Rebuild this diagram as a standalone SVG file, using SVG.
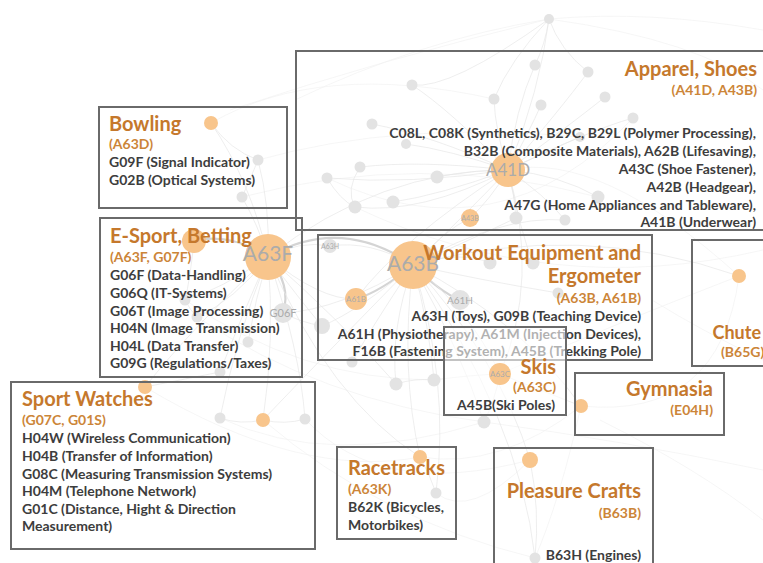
<svg xmlns="http://www.w3.org/2000/svg" width="763" height="563" viewBox="0 0 763 563">
<style>
.bg{fill:#ffffff}
.box{fill:none;stroke:#6a6a6a;stroke-width:2}
.t{font-family:Lato,"Open Sans","Liberation Sans",sans-serif;font-weight:bold;font-size:14px;fill:#3d3d3d}
.h{font-family:Lato,"Open Sans","Liberation Sans",sans-serif;font-weight:bold;font-size:20px;fill:#c5782c}
.s{font-family:Lato,"Open Sans","Liberation Sans",sans-serif;font-weight:bold;font-size:14px;fill:#cc8538}
.r{text-anchor:end}
.e{fill:none;stroke:#e6e6e6;stroke-width:0.7}
.ef{fill:none;stroke:#f0f0f0;stroke-width:0.6}
.ek{fill:none;stroke:#d4d4d4;stroke-width:2.2}
.no{fill:#f8c58c}
.ng{fill:#e3e3e3}
.nl{font-family:Lato,"Liberation Sans",sans-serif;fill:#ababab;text-anchor:middle}
</style>
<rect class="bg" x="0" y="0" width="763" height="563"/>
<g id="connectors">
<path class="ef" d="M549 19 Q420 40 295 100"/>
<path class="ef" d="M549 19 Q380 60 230 110"/>
<path class="ef" d="M549 19 Q700 40 763 90"/>
<path class="ef" d="M549 19 Q650 10 763 30"/>
<path class="ef" d="M739 276 Q600 150 508 170"/>
<path class="ef" d="M739 276 Q600 330 500 374"/>
<path class="ef" d="M739 276 Q720 420 581 406"/>
<path class="ef" d="M581 406 Q500 470 420 457"/>
<path class="ef" d="M581 406 Q560 500 535 558"/>
<path class="ef" d="M530 460 Q470 520 436 493"/>
<path class="ef" d="M305 419 Q380 500 530 460"/>
<path class="ef" d="M145 387 Q300 480 420 457"/>
<path class="ef" d="M263 420 Q380 520 535 558"/>
<path class="ef" d="M220 418 Q330 470 484 422"/>
<path class="ef" d="M185 300 Q300 380 434 380"/>
<path class="ef" d="M197 317 Q320 400 484 422"/>
<path class="ef" d="M211 123 Q320 60 494 99"/>
<path class="ef" d="M258 160 Q400 120 580 137"/>
<path class="ef" d="M242 197 Q420 150 598 197"/>
<path class="ef" d="M327 178 Q500 260 633 118"/>
<path class="ef" d="M355 207 Q550 300 763 250"/>
<path class="ef" d="M600 420 Q700 470 763 520"/>
<path class="ef" d="M484 422 Q620 440 763 470"/>
<path class="ef" d="M652 300 Q700 330 763 360"/>
<path class="ek" d="M413 265 Q340 215 268 257"/>
<path class="ek" d="M413 265 Q380 292 356 299"/>
<path class="ek" d="M413 265 Q440 292 460 300"/>
<path class="e" d="M413 265 Q470 310 500 374"/>
<path class="e" d="M413 265 Q470 210 508 170"/>
<path class="e" d="M413 265 Q340 310 283 313"/>
<path class="e" d="M413 265 Q360 310 322 326"/>
<path class="e" d="M413 265 Q370 240 330 246"/>
<path class="e" d="M413 265 Q390 330 396 384"/>
<path class="e" d="M413 265 Q430 330 434 380"/>
<path class="e" d="M413 265 Q460 350 484 422"/>
<path class="e" d="M413 265 Q400 370 420 457"/>
<path class="e" d="M413 265 Q500 360 530 460"/>
<path class="e" d="M413 265 Q520 320 581 406"/>
<path class="e" d="M413 265 Q580 220 739 276"/>
<path class="e" d="M413 265 Q320 360 263 420"/>
<path class="e" d="M413 265 Q450 380 436 493"/>
<path class="e" d="M413 265 Q445 230 470 218"/>
<path class="e" d="M413 265 Q470 240 516 218"/>
<path class="e" d="M413 265 Q500 215 565 220"/>
<path class="e" d="M413 265 Q520 420 535 558"/>
<path class="e" d="M413 265 Q460 250 490 263"/>
<path class="e" d="M413 265 Q480 280 558 293"/>
<path class="e" d="M413 265 Q370 330 352 362"/>
<path class="ek" d="M268 257 Q230 232 194 241"/>
<path class="ek" d="M268 257 Q292 285 283 313"/>
<path class="e" d="M268 257 Q250 180 211 123"/>
<path class="e" d="M268 257 Q270 205 258 160"/>
<path class="e" d="M268 257 Q258 225 242 197"/>
<path class="e" d="M268 257 Q220 290 185 300"/>
<path class="e" d="M268 257 Q235 300 197 317"/>
<path class="e" d="M268 257 Q255 300 248 342"/>
<path class="e" d="M268 257 Q240 320 220 372"/>
<path class="e" d="M268 257 Q275 340 263 420"/>
<path class="e" d="M268 257 Q190 330 145 387"/>
<path class="e" d="M268 257 Q235 340 220 418"/>
<path class="e" d="M268 257 Q380 170 508 170"/>
<path class="e" d="M268 257 Q300 300 322 326"/>
<path class="e" d="M268 257 Q320 300 356 299"/>
<path class="e" d="M268 257 Q330 400 420 457"/>
<path class="e" d="M268 257 Q300 350 305 419"/>
<path class="e" d="M268 257 Q300 240 330 246"/>
<path class="e" d="M268 257 Q340 320 396 384"/>
<path class="e" d="M508 170 Q540 90 549 19"/>
<path class="e" d="M508 170 Q515 110 535 65"/>
<path class="e" d="M508 170 Q450 110 412 85"/>
<path class="e" d="M508 170 Q495 130 494 99"/>
<path class="e" d="M508 170 Q530 130 541 105"/>
<path class="e" d="M508 170 Q560 110 588 72"/>
<path class="e" d="M508 170 Q570 125 605 97"/>
<path class="e" d="M508 170 Q590 130 633 118"/>
<path class="e" d="M508 170 Q550 150 580 137"/>
<path class="e" d="M508 170 Q430 135 372 124"/>
<path class="e" d="M508 170 Q450 150 406 144"/>
<path class="e" d="M508 170 Q420 160 360 167"/>
<path class="e" d="M508 170 Q410 185 327 178"/>
<path class="e" d="M508 170 Q470 170 437 177"/>
<path class="e" d="M508 170 Q440 195 393 202"/>
<path class="e" d="M508 170 Q420 215 355 207"/>
<path class="e" d="M508 170 Q490 200 470 218"/>
<path class="e" d="M508 170 Q515 195 516 218"/>
<path class="e" d="M508 170 Q545 195 565 220"/>
<path class="e" d="M508 170 Q560 175 598 197"/>
<path class="e" d="M508 170 Q400 240 356 299"/>
<path class="e" d="M508 170 Q540 280 500 374"/>
<path class="e" d="M508 170 Q520 230 533 263"/>
<path class="e" d="M549 19 Q545 45 535 65"/>
<path class="e" d="M549 19 Q560 50 588 72"/>
<path class="e" d="M549 19 Q510 60 494 99"/>
<path class="e" d="M549 19 Q450 90 412 85"/>
<path class="e" d="M327 178 Q340 200 355 207"/>
<path class="e" d="M360 167 Q345 190 355 207"/>
<path class="e" d="M211 123 Q230 150 258 160"/>
<path class="e" d="M258 160 Q250 180 242 197"/>
<path class="e" d="M194 241 Q190 280 185 300"/>
<path class="e" d="M185 300 Q190 310 197 317"/>
<path class="e" d="M145 387 Q180 380 220 372"/>
<path class="e" d="M220 418 Q240 425 263 420"/>
<path class="e" d="M263 420 Q285 425 305 419"/>
<path class="e" d="M283 313 Q300 322 322 326"/>
<path class="e" d="M396 384 Q415 378 434 380"/>
<path class="e" d="M434 380 Q470 375 500 374"/>
<path class="e" d="M500 374 Q495 400 484 422"/>
<path class="e" d="M500 374 Q540 390 581 406"/>
<path class="e" d="M420 457 Q430 475 436 493"/>
<path class="e" d="M530 460 Q540 510 535 558"/>
</g>
<g id="network-nodes">
<circle class="ng" cx="549" cy="19" r="5"/>
<circle class="ng" cx="535" cy="65" r="5.5"/>
<circle class="ng" cx="412" cy="85" r="5.5"/>
<circle class="ng" cx="494" cy="99" r="5.5"/>
<circle class="ng" cx="541" cy="105" r="5.5"/>
<circle class="ng" cx="588" cy="72" r="5.5"/>
<circle class="ng" cx="605" cy="97" r="5.5"/>
<circle class="ng" cx="633" cy="118" r="5.5"/>
<circle class="ng" cx="580" cy="137" r="5"/>
<circle class="ng" cx="372" cy="124" r="5.5"/>
<circle class="ng" cx="406" cy="144" r="5"/>
<circle class="ng" cx="360" cy="167" r="5.5"/>
<circle class="ng" cx="327" cy="178" r="5.5"/>
<circle class="ng" cx="437" cy="177" r="6.5"/>
<circle class="ng" cx="393" cy="202" r="6.5"/>
<circle class="ng" cx="355" cy="207" r="6.5"/>
<circle class="ng" cx="516" cy="218" r="6.5"/>
<circle class="ng" cx="565" cy="220" r="5.5"/>
<circle class="ng" cx="598" cy="197" r="6.5"/>
<circle class="ng" cx="258" cy="160" r="5.5"/>
<circle class="ng" cx="242" cy="197" r="5.5"/>
<circle class="ng" cx="185" cy="300" r="5.5"/>
<circle class="ng" cx="197" cy="317" r="5.5"/>
<circle class="ng" cx="248" cy="342" r="5.5"/>
<circle class="ng" cx="220" cy="372" r="5.5"/>
<circle class="ng" cx="220" cy="418" r="5.5"/>
<circle class="ng" cx="305" cy="419" r="5.5"/>
<circle class="ng" cx="396" cy="384" r="6.5"/>
<circle class="ng" cx="434" cy="380" r="6.5"/>
<circle class="ng" cx="484" cy="422" r="6.5"/>
<circle class="ng" cx="352" cy="362" r="5.5"/>
<circle class="ng" cx="436" cy="493" r="5.5"/>
<circle class="ng" cx="535" cy="558" r="5.5"/>
<circle class="ng" cx="490" cy="263" r="6.5"/>
<circle class="ng" cx="533" cy="263" r="6.5"/>
<circle class="ng" cx="558" cy="293" r="5.5"/>
<circle class="ng" cx="330" cy="246" r="7"/>
<text class="nl" x="330" y="249" font-size="7">A63H</text>
<circle class="ng" cx="322" cy="326" r="8"/>
<circle class="ng" cx="283" cy="313" r="10"/>
<text class="nl" x="283" y="317" font-size="11">G06F</text>
<circle class="ng" cx="460" cy="300" r="10"/>
<text class="nl" x="460" y="304" font-size="10">A61H</text>
<circle class="no" cx="268" cy="257" r="23"/>
<text class="nl" x="268" y="261" font-size="21">A63F</text>
<circle class="no" cx="413" cy="265" r="24"/>
<text class="nl" x="413" y="271" font-size="21">A63B</text>
<circle class="no" cx="508" cy="170" r="17"/>
<text class="nl" x="508" y="176" font-size="17">A41D</text>
<circle class="no" cx="356" cy="299" r="11"/>
<text class="nl" x="356" y="302" font-size="8">A61B</text>
<circle class="no" cx="470" cy="218" r="9"/>
<text class="nl" x="470" y="221" font-size="7">A43B</text>
<circle class="no" cx="211" cy="123" r="7"/>
<circle class="no" cx="194" cy="241" r="12"/>
<circle class="no" cx="145" cy="387" r="7"/>
<circle class="no" cx="263" cy="420" r="7"/>
<circle class="no" cx="420" cy="457" r="7"/>
<circle class="no" cx="530" cy="460" r="8"/>
<circle class="no" cx="581" cy="406" r="7"/>
<circle class="no" cx="739" cy="276" r="7"/>
</g>
<g id="apparel">
<rect class="box" x="296" y="51" width="480" height="179"/>
<text class="h r" x="757" y="76">Apparel, Shoes</text>
<text class="s r" x="757" y="95">(A41D, A43B)</text>
<text class="t r" x="756" y="138">C08L, C08K (Synthetics), B29C, B29L (Polymer Processing),</text>
<text class="t r" x="756" y="156">B32B (Composite Materials), A62B (Lifesaving),</text>
<text class="t r" x="756" y="174">A43C (Shoe Fastener),</text>
<text class="t r" x="756" y="192">A42B (Headgear),</text>
<text class="t r" x="756" y="210">A47G (Home Appliances and Tableware),</text>
<text class="t r" x="756" y="227">A41B (Underwear)</text>
</g>
<g id="bowling">
<rect class="box" x="99" y="107" width="188" height="101"/>
<text class="h" x="109" y="131">Bowling</text>
<text class="s" x="109" y="149">(A63D)</text>
<text class="t" x="109" y="167">G09F (Signal Indicator)</text>
<text class="t" x="109" y="185">G02B (Optical Systems)</text>
</g>
<g id="esport">
<rect class="box" x="100" y="218" width="202" height="159"/>
<text class="h" x="110" y="243">E-Sport, Betting</text>
<text class="s" x="110" y="262">(A63F, G07F)</text>
<text class="t" x="110" y="280">G06F (Data-Handling)</text>
<text class="t" x="110" y="298">G06Q (IT-Systems)</text>
<text class="t" x="110" y="316">G06T (Image Processing)</text>
<text class="t" x="110" y="333">H04N (Image Transmission)</text>
<text class="t" x="110" y="351">H04L (Data Transfer)</text>
<text class="t" x="110" y="368">G09G (Regulations/Taxes)</text>
</g>
<g id="workout">
<rect class="box" x="318" y="235" width="334" height="125"/>
<text class="h r" x="641" y="260">Workout Equipment and</text>
<text class="h r" x="641" y="283">Ergometer</text>
<text class="s r" x="641" y="303">(A63B, A61B)</text>
<text class="t r" x="641" y="321">A63H (Toys), G09B (Teaching Device)</text>
<text class="t r" x="641" y="339">A61H (Physiotherapy), A61M (Injection Devices),</text>
<text class="t r" x="641" y="356">F16B (Fastening System), A45B (Trekking Pole)</text>
</g>
<g id="skis">
<rect x="444" y="327" width="122" height="88" fill="#ffffff" fill-opacity="0.6" stroke="#6a6a6a" stroke-width="2"/>
<circle class="no" cx="500" cy="374" r="11"/>
<text class="nl" x="500" y="377" font-size="8">A63C</text>
<text class="h r" x="556" y="374">Skis</text>
<text class="s r" x="556" y="392">(A63C)</text>
<text class="t r" x="555" y="410">A45B(Ski Poles)</text>
</g>
<g id="chute">
<rect class="box" x="692" y="240" width="90" height="126"/>
<text class="h r" x="761" y="339" style="font-size:18px">Chute</text>
<text class="s" x="721" y="357">(B65G)</text>
</g>
<g id="gymnasia">
<rect class="box" x="575" y="373" width="149" height="62"/>
<text class="h r" x="713" y="396">Gymnasia</text>
<text class="s r" x="713" y="415">(E04H)</text>
</g>
<g id="sport-watches">
<rect class="box" x="11" y="382" width="304" height="167"/>
<text class="h" x="22" y="406">Sport Watches</text>
<text class="s" x="22" y="425">(G07C, G01S)</text>
<text class="t" x="22" y="443">H04W (Wireless Communication)</text>
<text class="t" x="22" y="461">H04B (Transfer of Information)</text>
<text class="t" x="22" y="479">G08C (Measuring Transmission Systems)</text>
<text class="t" x="22" y="496">H04M (Telephone Network)</text>
<text class="t" x="22" y="514">G01C (Distance, Hight &amp; Direction</text>
<text class="t" x="22" y="531">Measurement)</text>
</g>
<g id="racetracks">
<rect class="box" x="337" y="447" width="119" height="92"/>
<text class="h" x="348" y="475">Racetracks</text>
<text class="s" x="348" y="494">(A63K)</text>
<text class="t" x="348" y="512">B62K (Bicycles,</text>
<text class="t" x="348" y="530">Motorbikes)</text>
</g>
<g id="pleasure-crafts">
<rect class="box" x="494" y="448" width="159" height="130"/>
<text class="h r" x="641" y="498">Pleasure Crafts</text>
<text class="s r" x="641" y="518">(B63B)</text>
<text class="t r" x="641" y="560">B63H (Engines)</text>
</g>
</svg>
